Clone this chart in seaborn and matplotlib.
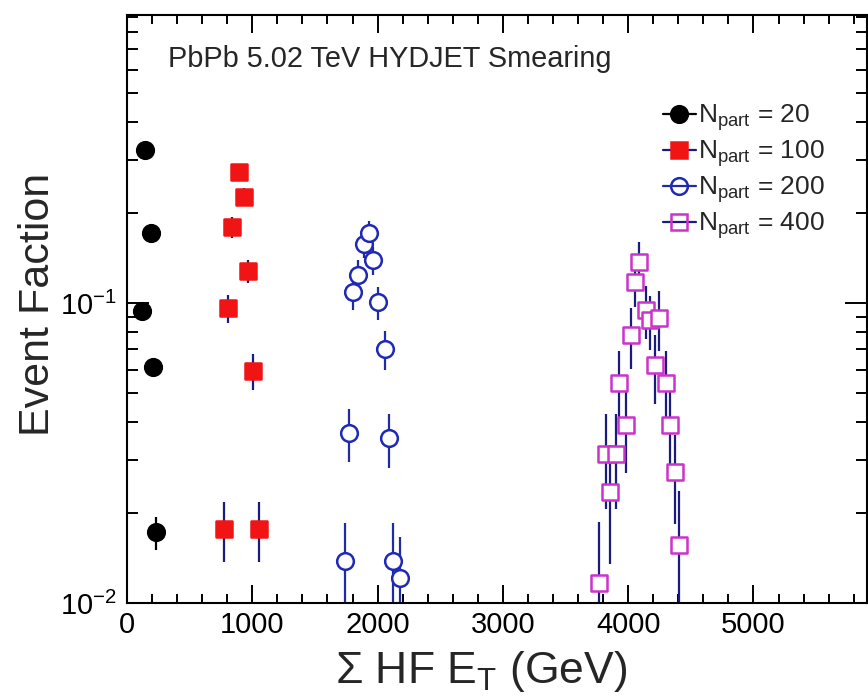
import matplotlib
matplotlib.use("Agg")
import matplotlib.pyplot as plt
from matplotlib.ticker import MultipleLocator, LogLocator, NullFormatter, FixedLocator
from matplotlib.lines import Line2D
import seaborn as sns
import pandas as pd

# ---------------- data ----------------
x_20 = [117, 144, 189, 210, 231]
y_20 = [0.0942, 0.324, 0.171, 0.0611, 0.0172]
e_20 = [0.005, 0.009, 0.007, 0.004, 0.0022]

x_100 = [774, 809, 841, 896, 934, 968, 1003, 1056]
y_100 = [0.0177, 0.096, 0.179, 0.274, 0.226, 0.128, 0.0594, 0.0177]
e_100 = [0.004, 0.010, 0.014, 0.016, 0.015, 0.011, 0.008, 0.004]

x_200 = [1740, 1774, 1806, 1846, 1894, 1934, 1966, 2006, 2059, 2094, 2126, 2179]
y_200 = [0.0138, 0.0368, 0.109, 0.124, 0.157, 0.171, 0.139, 0.1005, 0.0701, 0.0354, 0.0138, 0.0121]
e_200 = [0.0047, 0.0074, 0.014, 0.015, 0.016, 0.017, 0.015, 0.013, 0.0105, 0.0072, 0.0047, 0.0045]

x_400 = [3770, 3823, 3855, 3903, 3929, 3983, 4019, 4054, 4089, 4142, 4174, 4214, 4248, 4302, 4334, 4373, 4408]
y_400 = [0.01163, 0.0315, 0.0235, 0.0315, 0.0542, 0.0392, 0.0782, 0.1178, 0.1374, 0.0948, 0.0878,
         0.0621, 0.0893, 0.0542, 0.0392, 0.0274, 0.0156]
e_400 = [0.007, 0.011, 0.010, 0.011, 0.015, 0.012, 0.018, 0.021, 0.022, 0.019, 0.018,
         0.016, 0.020, 0.015, 0.012, 0.009, 0.008]

labels = ["20", "100", "200", "400"]
x_ticks = [0, 1000, 2000, 3000, 4000, 5000]
title_text = "PbPb 5.02 TeV HYDJET Smearing"
x_title = r"$\Sigma$ HF E$_{\mathregular{T}}$ (GeV)"
y_title = "Event Faction"

# ---------------- style ----------------
sns.set_style("white")
plt.rcParams["font.family"] = ["Liberation Sans", "DejaVu Sans"]
plt.rcParams["mathtext.fontset"] = "custom"
plt.rcParams["mathtext.rm"] = "Liberation Sans"
plt.rcParams["mathtext.it"] = "Liberation Sans"
plt.rcParams["mathtext.bf"] = "Liberation Sans:bold"
plt.rcParams["mathtext.sf"] = "Liberation Sans"
plt.rcParams["mathtext.default"] = "regular"
plt.rcParams["axes.unicode_minus"] = False

series = [
    dict(x=x_20, y=y_20, e=e_20, marker="o", fc="black", ec="black", ecol="black"),
    dict(x=x_100, y=y_100, e=e_100, marker="s", fc="#f01414", ec="#f01414", ecol="#1b1b7d"),
    dict(x=x_200, y=y_200, e=e_200, marker="o", fc="white", ec="#1f2ab4", ecol="#1f2aa6"),
    dict(x=x_400, y=y_400, e=e_400, marker="s", fc="white", ec="#cc33cc", ecol="#1b1b7d"),
]

W, H = 868, 699
fig = plt.figure(figsize=(W / 100, H / 100), dpi=100)
ax = fig.add_axes([127 / W, 1 - 603 / H, 740 / W, 588 / H])

ms = 12.0  # marker size in points
for s in series:
    df = pd.DataFrame({"x": s["x"], "y": s["y"], "e": s["e"]})
    ax.errorbar(df["x"], df["y"], yerr=df["e"], fmt="none", ecolor=s["ecol"],
                elinewidth=1.6, capsize=0, zorder=2)
    sns.scatterplot(data=df, x="x", y="y", ax=ax, marker=s["marker"], s=ms ** 2,
                    facecolor=s["fc"], edgecolor=s["ec"], linewidth=1.8, zorder=3,
                    legend=False)

ax.set_yscale("log")
ax.set_xlim(0, 5906)
ax.set_ylim(0.01, 0.912)

ax.xaxis.set_major_locator(FixedLocator(x_ticks))
ax.set_xticklabels([str(t) for t in x_ticks])
ax.xaxis.set_minor_locator(MultipleLocator(200))
ax.yaxis.set_major_locator(LogLocator(base=10))
ax.yaxis.set_minor_locator(LogLocator(base=10, subs=range(2, 10)))
ax.yaxis.set_minor_formatter(NullFormatter())

ax.tick_params(axis="both", which="both", direction="in", top=True, right=True,
               bottom=True, left=True, colors="black", labelsize=21, width=1.4)
ax.tick_params(axis="x", which="major", length=13, pad=6)
ax.tick_params(axis="x", which="minor", length=6.5)
ax.tick_params(axis="y", which="major", length=16, pad=7)
ax.tick_params(axis="y", which="minor", length=8)
for sp in ax.spines.values():
    sp.set_linewidth(1.5)
    sp.set_color("black")

ax.set_xlabel(x_title, fontsize=32, va="center", ha="center")
ax.xaxis.set_label_coords(0.478, -0.117)
ax.set_ylabel(y_title, fontsize=31, va="center", ha="center")
ax.yaxis.set_label_coords(-0.12, 0.507)

ax.text(0.0554, 0.9116, title_text, transform=ax.transAxes, fontsize=20.8,
        ha="left", va="baseline")

handles = []
for s in series:
    handles.append(Line2D([], [], color=s["ecol"], lw=1.6, marker=s["marker"],
                          markersize=ms, markerfacecolor=s["fc"] if s["fc"] != "white" else "none",
                          markeredgecolor=s["ec"], markeredgewidth=1.8))
leg = ax.legend(handles, [r"N$_{\mathregular{part}}$ = " + l for l in labels],
                loc="upper left", bbox_to_anchor=(0.724, 0.851), frameon=False,
                fontsize=19, handlelength=1.25, handletextpad=0.1, labelspacing=0.2,
                borderpad=0, borderaxespad=0)

fig.savefig("out.png", dpi=100)
